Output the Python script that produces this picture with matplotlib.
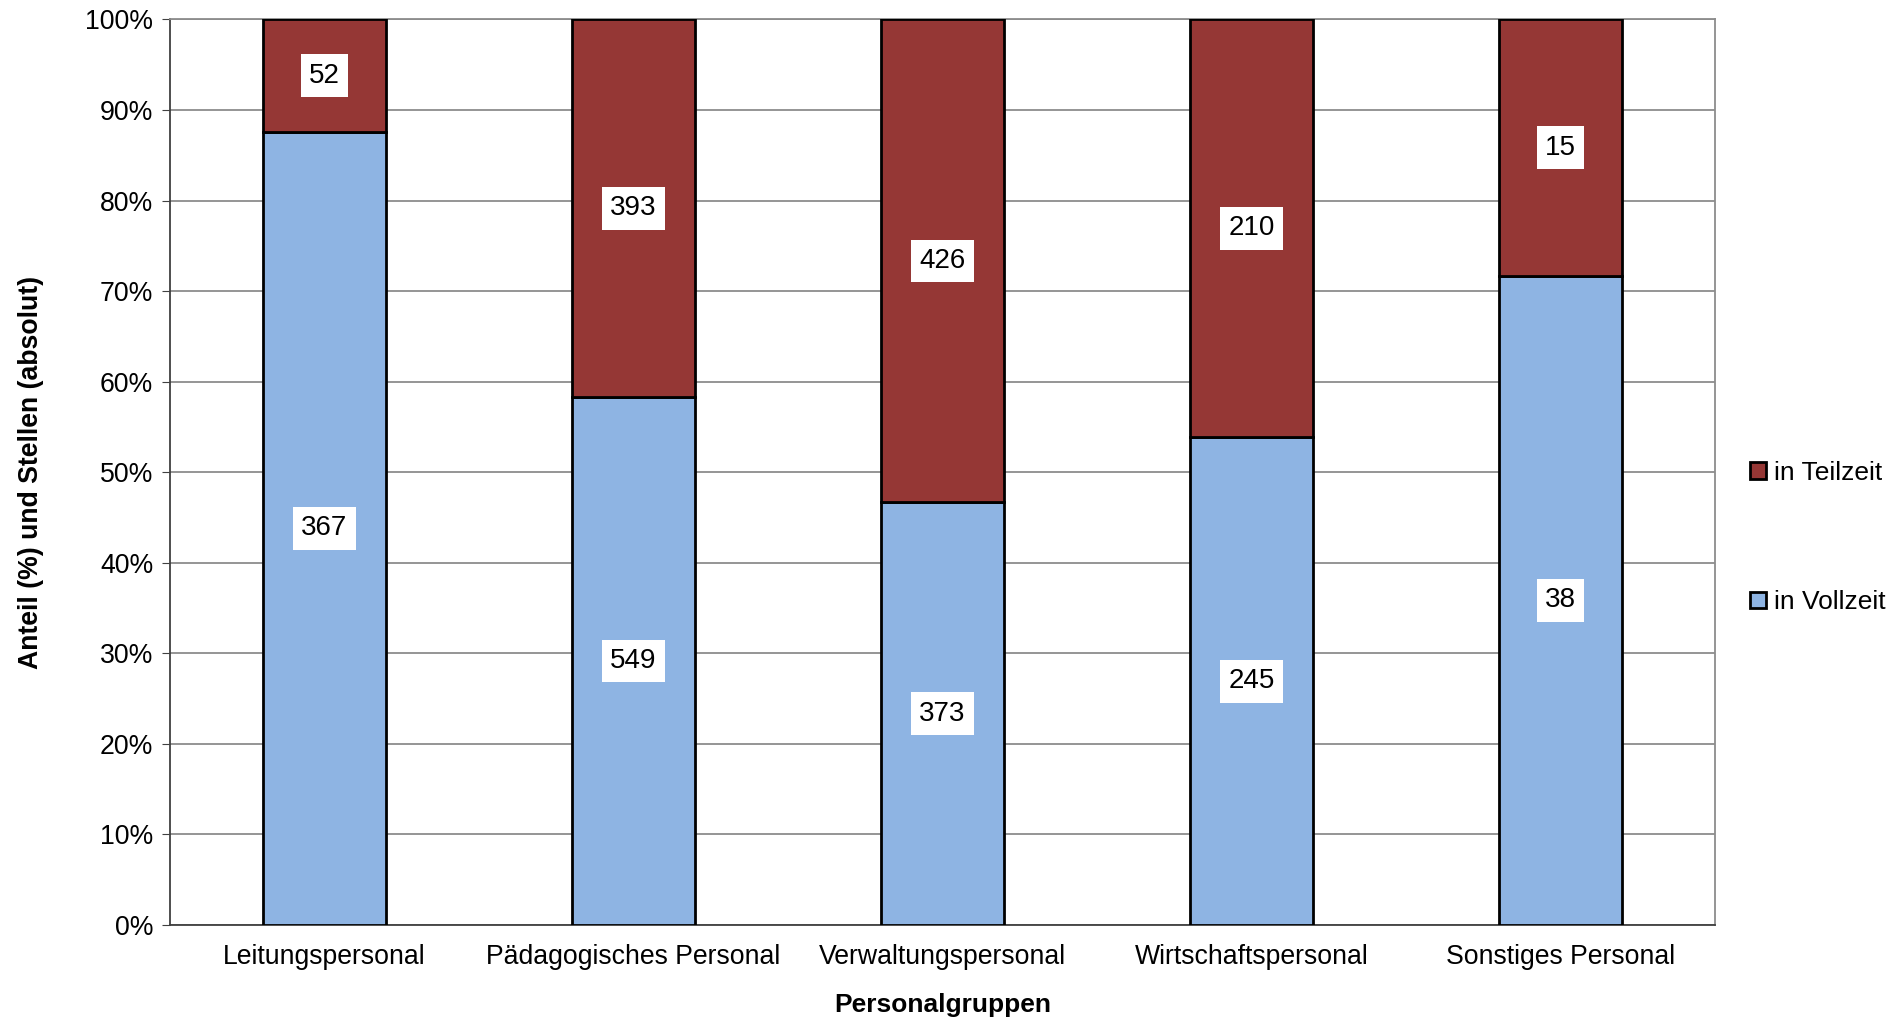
import numpy as np
import matplotlib.pyplot as plt
from matplotlib.ticker import PercentFormatter

plt.rcParams['font.family'] = ['Liberation Sans', 'DejaVu Sans']

### Data
groups = ['Leitungspersonal', 'Pädagogisches Personal', 'Verwaltungspersonal',
          'Wirtschaftspersonal', 'Sonstiges Personal']
vollzeit = np.array([367, 549, 373, 245, 38])
teilzeit = np.array([52, 393, 426, 210, 15])

total = vollzeit + teilzeit
p_voll = vollzeit / total * 100
p_teil = teilzeit / total * 100

### Plot
fig = plt.figure(figsize=(18.97, 10.24), dpi=100)
ax = fig.add_axes([0.0896, 0.0967, 0.8145, 0.8843])

x = np.arange(len(groups))
b1 = ax.bar(x, p_voll, 0.4, color='#8EB4E3', edgecolor='black', lw=2,
            label='in Vollzeit', zorder=3)
b2 = ax.bar(x, p_teil, 0.4, bottom=p_voll, color='#953735', edgecolor='black',
            lw=2, label='in Teilzeit', zorder=3)

box = dict(facecolor='white', edgecolor='none', pad=6)
for i in range(len(groups)):
    ax.text(x[i], p_voll[i] / 2, str(vollzeit[i]), ha='center', va='center',
            fontsize=20, bbox=box, zorder=4)
    ax.text(x[i], p_voll[i] + p_teil[i] / 2, str(teilzeit[i]), ha='center',
            va='center', fontsize=20, bbox=box, zorder=4)

ax.set_xlim(-0.5, len(groups) - 0.5)
ax.set_ylim(0, 100)
ax.set_yticks(np.arange(0, 101, 10))
ax.yaxis.set_major_formatter(PercentFormatter(decimals=0))
ax.grid(axis='y', color='#8c8c8c', lw=1.3, zorder=0)

for s in ax.spines.values():
    s.set_color('#8c8c8c')
    s.set_linewidth(1.3)
ax.spines['left'].set_color('#404040')
ax.spines['bottom'].set_color('#404040')

ax.set_xticks(x)
ax.set_xticklabels(groups, fontsize=19.2)
ax.tick_params(axis='x', length=0, pad=14)
ax.tick_params(axis='y', labelsize=19.2, length=6, color='#404040', pad=6)

ax.set_xlabel('Personalgruppen', fontsize=19, fontweight='bold', labelpad=16)
ax.set_ylabel('Anteil (%) und Stellen (absolut)', fontsize=19.2,
              fontweight='bold', labelpad=30)

handles = [b2, b1]
fig.legend(handles, [h.get_label() for h in handles], loc='center left',
           bbox_to_anchor=(0.91, 0.475), frameon=False, fontsize=19,
           handlelength=0.6, handleheight=0.6, handletextpad=0.3,
           labelspacing=4.0)

fig.savefig('out.png', dpi=100)
